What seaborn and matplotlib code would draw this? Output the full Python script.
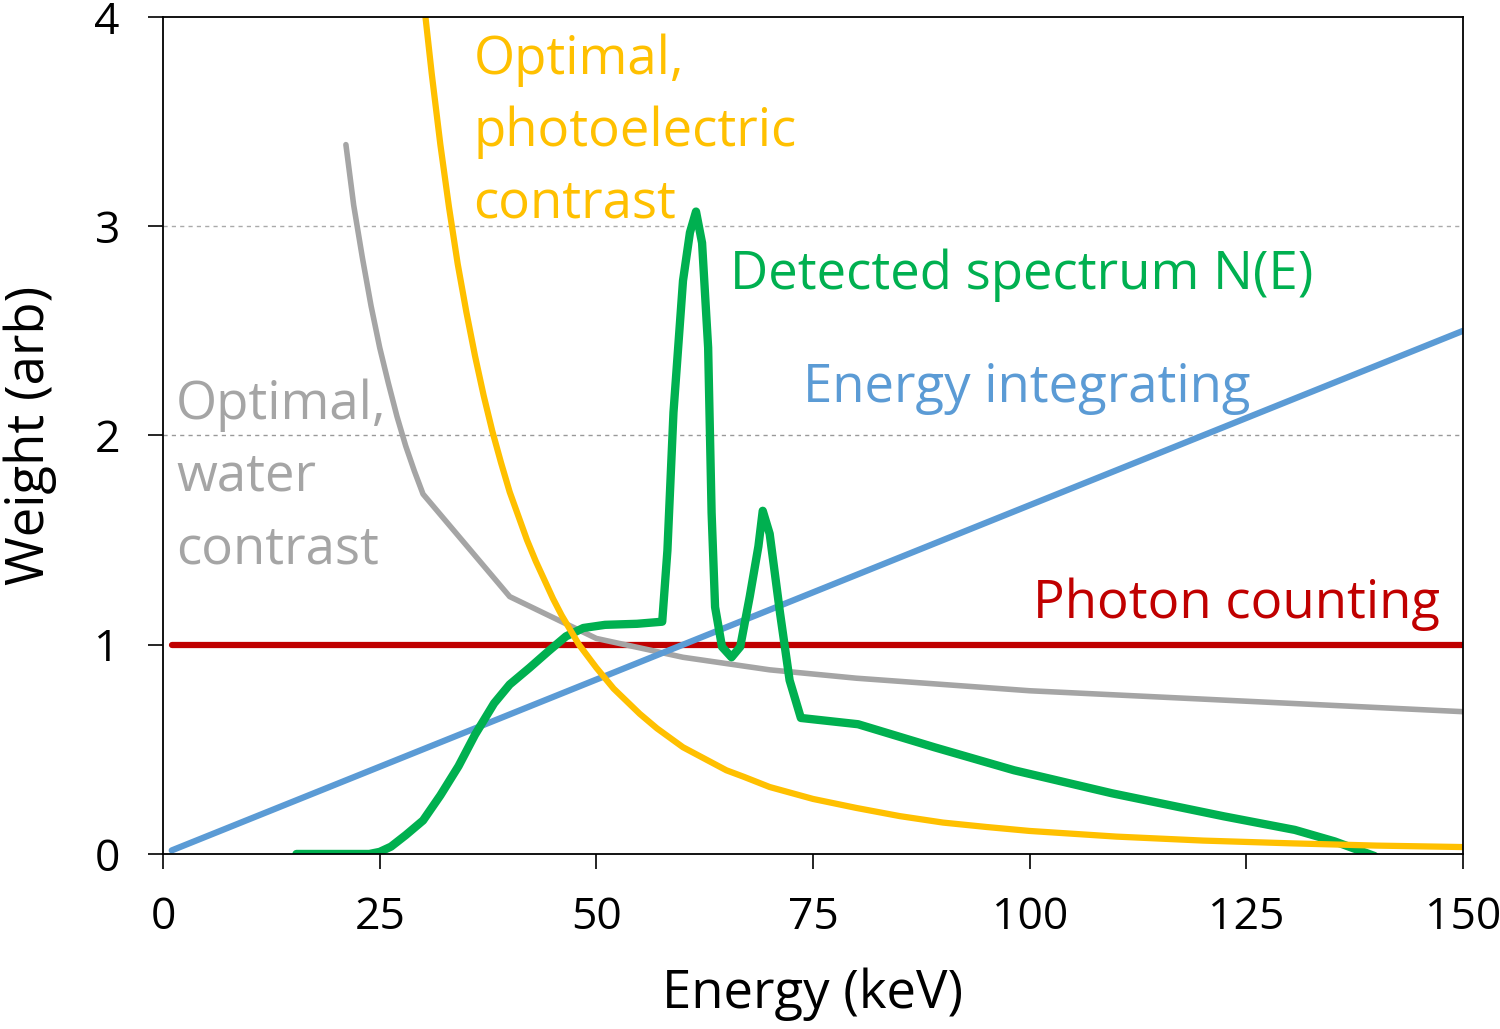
import numpy as np
import pandas as pd
import matplotlib
matplotlib.use("Agg")
import matplotlib.pyplot as plt
import seaborn as sns

# (keV, arbitrary weight)
energy_spectrum = [15.4, 20, 23.8, 25, 26.3, 28, 30, 32, 34.1, 36, 38.2, 40, 42.3, 44.5,
                   46.5, 48.5, 51, 54.7, 57.6, 58.2, 58.9, 60.0, 60.8, 61.5, 62.2, 62.9, 63.3,
                   63.7, 64.5, 65.6, 66.6, 67.7, 68.7, 69.2, 70.0, 71.2, 72.3, 73.6, 80.2,
                   89, 98.2, 109.5, 122.4, 130.6, 135.2, 139.8]
spectrum = [0.0, 0.0, 0.0, 0.01, 0.035, 0.09, 0.16, 0.28, 0.42, 0.57, 0.72, 0.81, 0.89, 0.97,
            1.04, 1.08, 1.095, 1.10, 1.11, 1.45, 2.11, 2.74, 2.97, 3.07, 2.92, 2.42, 1.63,
            1.18, 0.99, 0.94, 0.99, 1.23, 1.47, 1.64, 1.53, 1.15, 0.83, 0.65, 0.62,
            0.51, 0.40, 0.29, 0.18, 0.115, 0.06, -0.01]

energy_water = [21.1, 22, 23, 24, 25, 26, 27, 28, 29, 30, 40, 50, 60, 70, 80, 90, 100,
                110, 120, 130, 140, 150]
water_weight = [3.39, 3.10, 2.85, 2.62, 2.42, 2.25, 2.09, 1.95, 1.83, 1.72, 1.23, 1.03, 0.94,
                0.88, 0.84, 0.81, 0.78, 0.76, 0.74, 0.72, 0.70, 0.68]

energy_photo = [30.2, 31, 32, 33, 34, 35, 36, 37, 38, 39, 40, 42, 43, 45, 46, 48, 50, 52, 55,
                57, 60, 62, 65, 67, 70, 75, 80, 85, 90, 95, 100, 110, 120, 130, 140, 150]
photo_weight = [4.03, 3.73, 3.39, 3.09, 2.82, 2.59, 2.38, 2.19, 2.02, 1.87, 1.73, 1.50, 1.40,
                1.22, 1.14, 1.00, 0.89, 0.79, 0.67, 0.60, 0.51, 0.466, 0.40, 0.369, 0.32,
                0.263, 0.22, 0.181, 0.15, 0.129, 0.11, 0.083, 0.064, 0.051, 0.040, 0.033]

energy_lin = [1, 150]
integrating_weight = [0.017, 2.5]
counting_weight = [1, 1]

sns.set_theme(style="white")
plt.rcParams['font.family'] = ['Open Sans', 'DejaVu Sans']
plt.rcParams['text.color'] = 'black'
plt.rcParams['axes.labelcolor'] = 'black'

fig = plt.figure(figsize=(15, 10.29), dpi=100)
ax = fig.add_axes([0.1087, 0.1701, 0.8666, 0.8134])

ax.axhline(2, color='#999999', lw=1, ls=(0, (3, 3)), zorder=0)
ax.axhline(3, color='#aaaaaa', lw=1, ls=(0, (3, 3)), zorder=0)

sns.lineplot(x=energy_lin, y=counting_weight, color='#C00000', lw=4.5, ax=ax)
sns.lineplot(x=energy_water, y=water_weight, color='#A5A5A5', lw=4, sort=False, ax=ax)
sns.lineplot(x=energy_lin, y=integrating_weight, color='#5B9BD5', lw=4.5, ax=ax)
sns.lineplot(x=energy_spectrum, y=spectrum, color='#00B050', lw=6, sort=False, ax=ax)
sns.lineplot(x=energy_photo, y=photo_weight, color='#FFC000', lw=4.5, sort=False, ax=ax)

ax.set_xlim(0, 150)
ax.set_ylim(0, 4)
ax.set_xticks(np.arange(0, 151, 25))
ax.set_yticks([0, 1, 2, 3, 4])
ax.tick_params(axis='both', which='both', direction='out', length=11, width=1.2,
               labelsize=32, colors='black', bottom=True, left=True)
ax.tick_params(axis='x', pad=19)
ax.tick_params(axis='y', pad=20)
for s in ax.spines.values():
    s.set_color('black')
    s.set_linewidth(1.3)

ax.set_xlabel('Energy (keV)', fontsize=38, labelpad=20)
ax.set_ylabel('Weight (arb)', fontsize=38, labelpad=27)

fs = 38
# multiline labels: anchor on the last line's baseline
ax.text(35.8, 3.04, 'Optimal,\nphotoelectric\ncontrast', color='#FFC000', fontsize=fs,
        va='baseline', ha='left', linespacing=1.46)
ax.text(1.5, 1.39, 'Optimal,\nwater\ncontrast', color='#A5A5A5', fontsize=fs,
        va='baseline', ha='left', linespacing=1.46)
ax.text(65.4, 2.70, 'Detected spectrum N(E)', color='#00B050', fontsize=fs, va='baseline')
ax.text(73.8, 2.16, 'Energy integrating', color='#5B9BD5', fontsize=fs, va='baseline')
ax.text(100.4, 1.13, 'Photon counting', color='#C00000', fontsize=fs, va='baseline')

fig.savefig('out.png', dpi=100)
